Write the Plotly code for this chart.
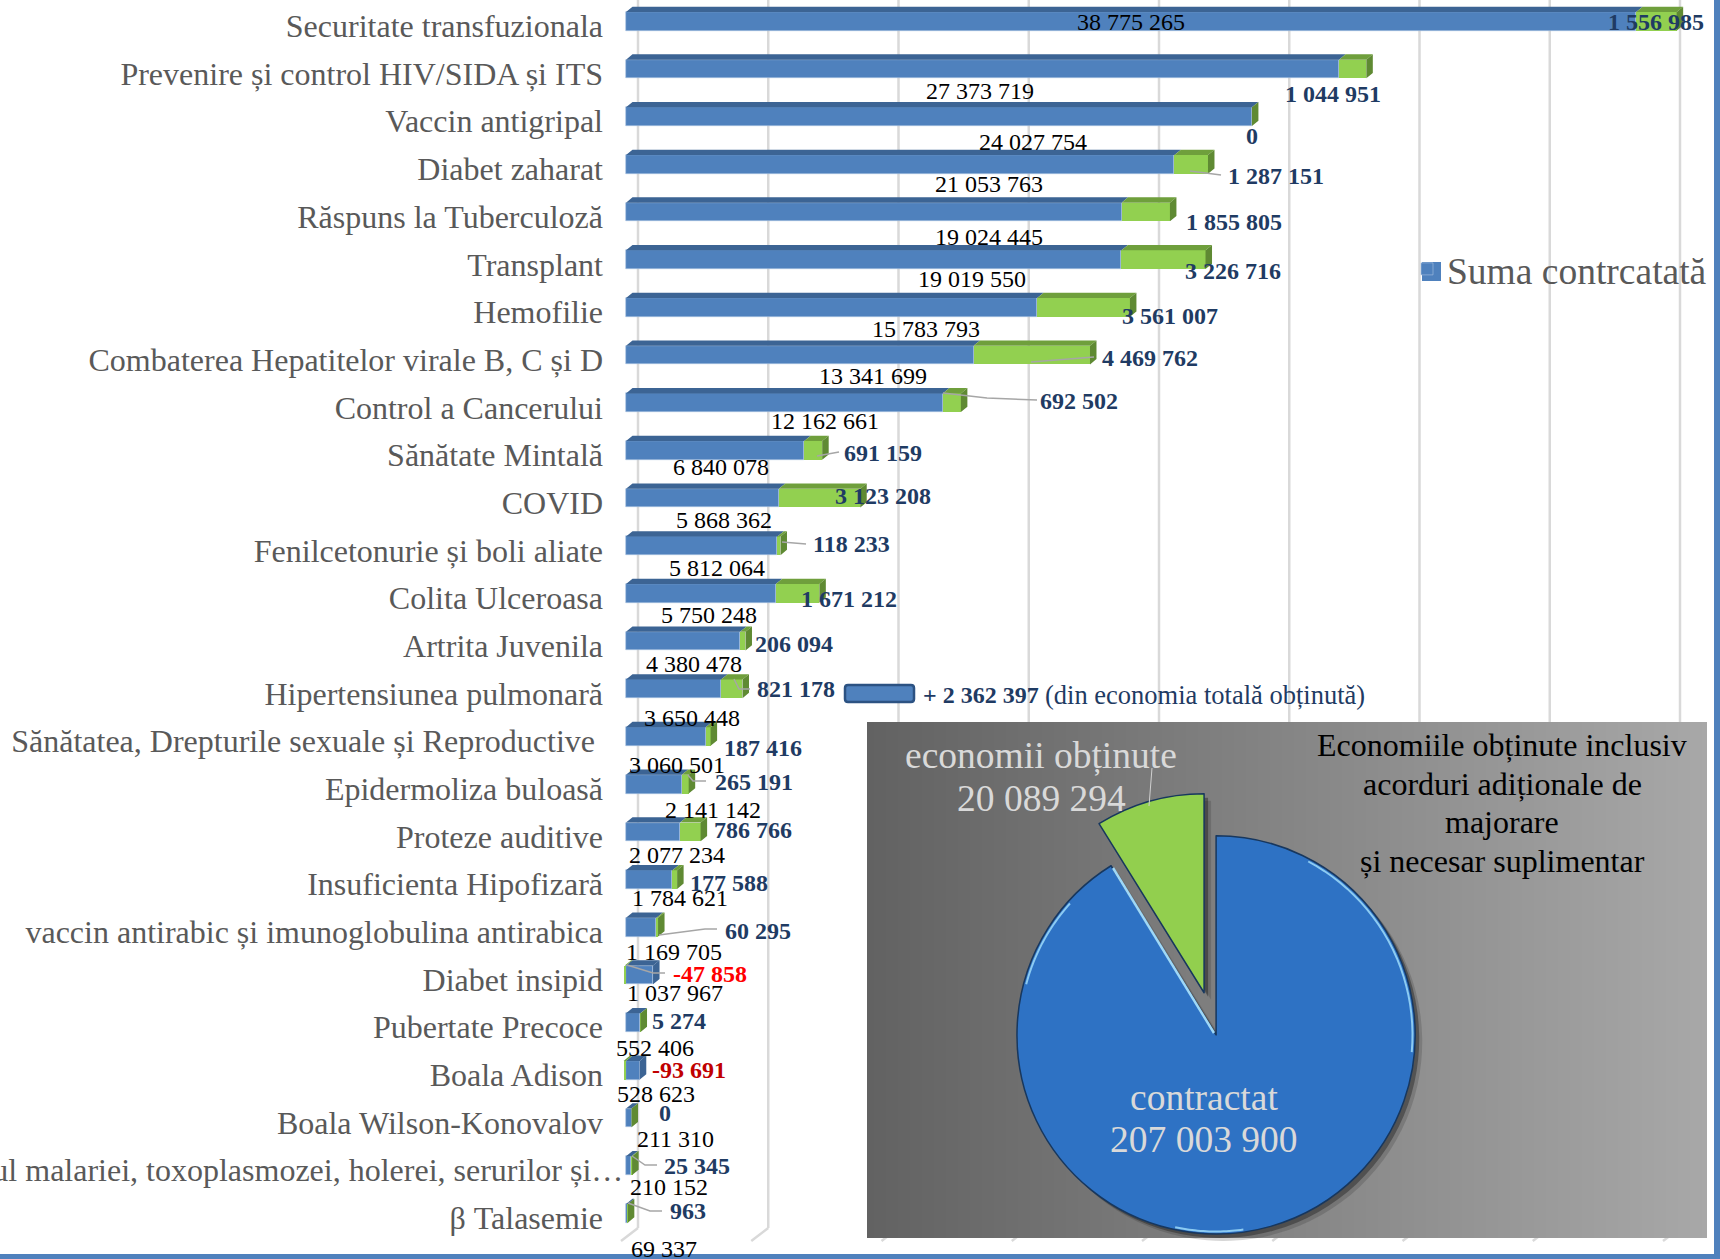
import math
import plotly.graph_objects as go

# ---------- data ----------
categories = ["Securitate transfuzionala", "Prevenire și control HIV/SIDA și ITS", "Vaccin antigripal", "Diabet zaharat",
              "Răspuns la Tuberculoză", "Transplant", "Hemofilie", "Combaterea Hepatitelor virale B, C și D",
              "Control a Cancerului", "Sănătate Mintală", "COVID", "Fenilcetonurie și boli aliate", "Colita Ulceroasa",
              "Artrita Juvenila", "Hipertensiunea pulmonară", "Sănătatea, Drepturile sexuale și Reproductive\u00a0",
              "Epidermoliza buloasă", "Proteze auditive", "Insuficienta Hipofizară",
              "vaccin antirabic și imunoglobulina antirabica", "Diabet insipid", "Pubertate Precoce", "Boala Adison",
              "Boala Wilson-Konovalov", "Tratamentul malariei, toxoplasmozei, holerei, serurilor și…", "β Talasemie"]
contracted = [38775265, 27373719, 24027754, 21053763, 19024445, 19019550, 15783793, 13341699, 12162661, 6840078,
              5868362, 5812064, 5750248, 4380478, 3650448, 3060501, 2141142, 2077234, 1784621, 1169705, 1037967,
              552406, 528623, 211310, 210152, 69337]
savings = [1556985, 1044951, 0, 1287151, 1855805, 3226716, 3561007, 4469762, 692502, 691159, 3123208, 118233, 1671212,
           206094, 821178, 187416, 265191, 786766, 177588, 60295, -47858, 5274, -93691, 0, 25345, 963]
pie_labels = ["contractat", "economii obținute"]
pie_values = [207003900, 20089294]
grid_values = [0, 5e6, 10e6, 15e6, 20e6, 25e6, 30e6, 35e6, 40e6]
extra_note = "+ 2 362 397"
extra_note_tail = "(din economia totală obținută)"
panel_title = ["Economiile obținute inclusiv", "acorduri adiționale de", "majorare", "și necesar suplimentar"]


def fmt(v):
    s = f"{abs(v):,}".replace(",", " ")
    return ("-" if v < 0 else "") + s


# ---------- layout geometry (pixels of the 1720x1259 page) ----------
W, H = 1720, 1259
K = 1720 / 1568
X0_PX, PX_PER_UNIT = 626.0, 26.05 / 1e6
Y0_PX, PX_PER_ROW = 21.3, 47.68
PLOT_LEFT = 604.0
BAR_H = 18.7 / PX_PER_ROW
DX = 6.5 / PX_PER_UNIT
DY = 5.3 / PX_PER_ROW
LABEL_DROP = 4.6 / PX_PER_ROW
LONG_LABEL_ROW = 24


def xpx(v):
    return X0_PX + v * PX_PER_UNIT


def ypx(r):
    return Y0_PX + r * PX_PER_ROW


def xval(p):
    return (p - X0_PX) / PX_PER_UNIT


def yval(p):
    return (p - Y0_PX) / PX_PER_ROW


# label centres in the reference, 1568-wide coordinates
black_pos = [(1031, 20), (893, 83), (942, 129), (902, 168), (902, 216), (886, 254), (844, 300), (796, 343), (752, 384),
             (657, 426), (660, 474), (654, 518), (646, 561), (633, 605), (631, 655), (617, 697), (650, 738), (617, 779),
             (620, 819), (614, 868), (615, 905), (597, 955), (598, 997), (616, 1038), (610, 1082), (605, 1139)]
bold_pos = [(1510, 20), (1215, 86), (1141, 124), (1163, 160), (1125, 202), (1124, 247), (1067, 288), (1048, 326),
            (984, 366), (805, 413), (805, 452), (776, 496), (774, 546), (724, 587), (726, 628), (696, 682), (687, 713),
            (686, 757), (665, 805), (691, 849), (647, 888), (619, 931), (628, 975), (606, 1015), (635, 1063), (627, 1104)]
bold_color = {20: "#FF0000", 22: "#C00000"}
NAVY = "#1F3B63"
SERIF = "Liberation Serif"

# leader lines in page pixels
leaders = [[(1190, 171), (1221, 175)], [(1031, 362), (1094, 357)], [(943, 393), (987, 398), (1037, 400)],
           [(817, 456), (839, 452)], [(782, 542), (806, 544)], [(734, 679), (739, 689), (750, 689)],
           [(688, 775), (693, 781), (706, 781)], [(659, 935), (705, 929), (717, 929)],
           [(627, 965), (653, 973), (665, 973)], [(632, 1156), (645, 1165), (657, 1165)],
           [(628, 1203), (650, 1211), (662, 1211)]]

rows = list(range(len(categories)))

fig = go.Figure()

# panel gradient (own subplot, above the chart's grid)
fig.add_trace(go.Heatmap(z=[[0, 1]], x=[0, 1], y=[0], zsmooth="best", showscale=False, xaxis="x2", yaxis="y2",
                         colorscale=[[0, "#626262"], [1, "#A8A8A8"]], hoverinfo="skip"))

# front faces
fig.add_trace(go.Bar(y=rows, x=contracted, orientation="h", width=BAR_H, name="Suma contrcatată",
                     marker=dict(color="#4F81BD", line=dict(color="#A9C3E3", width=0.6))))
fig.add_trace(go.Bar(y=rows, x=savings, orientation="h", width=BAR_H, name="Economii", showlegend=False,
                     marker=dict(color="#92D050", line=dict(width=0))))

# top and side faces of the 3D bars
def poly(face):
    xs, ys = [], []
    for pts in face:
        xs += [p[0] for p in pts] + [pts[0][0], None]
        ys += [p[1] for p in pts] + [pts[0][1], None]
    return xs, ys


blue_top, green_top, green_side, blue_side = [], [], [], []
for r in rows:
    b, g = contracted[r], savings[r]
    yt = r - BAR_H / 2
    yb = r + BAR_H / 2
    blue_top.append([(0, yt), (b, yt), (b + DX, yt - DY), (DX, yt - DY)])
    if g > 0:
        green_top.append([(b, yt), (b + g, yt), (b + g + DX, yt - DY), (b + DX, yt - DY)])
    elif g < 0:
        green_top.append([(g, yt), (0, yt), (DX, yt - DY), (g + DX, yt - DY)])
    end = b + max(g, 0)
    side = [(end, yt), (end + DX, yt - DY), (end + DX, yb - DY), (end, yb)]
    (blue_side if g < 0 else green_side).append(side)

for face, col in [(blue_top, "#3C6494"), (blue_side, "#3C6494"), (green_top, "#6F9F3C"), (green_side, "#5F8A33")]:
    xs, ys = poly(face)
    fig.add_trace(go.Scatter(x=xs, y=ys, mode="lines", fill="toself", fillcolor=col, line=dict(width=0),
                             hoverinfo="skip", showlegend=False))

# leader lines
lx, ly = [], []
for path in leaders:
    lx += [xval(p[0]) for p in path] + [None]
    ly += [yval(p[1]) for p in path] + [None]
fig.add_trace(go.Scatter(x=lx, y=ly, mode="lines", line=dict(color="#A6A6A6", width=1.5), hoverinfo="skip",
                         showlegend=False))

# pie: soft shadow layers, then the real slices
pie_cx, pie_cy, pie_half = 1209.0, 1010.0, 225.0
PULLS = [0.13, 0.09]


def dom(cx, cy):
    return dict(x=[(cx - pie_half) / W, (cx + pie_half) / W], y=[1 - (cy + pie_half) / H, 1 - (cy - pie_half) / H])


for off, alpha in [(7, 0.18), (4, 0.4)]:
    shade = f"rgba(25,25,25,{alpha})"
    fig.add_trace(go.Pie(labels=pie_labels, values=pie_values, sort=False, direction="clockwise", rotation=0,
                         pull=PULLS, domain=dom(pie_cx + off, pie_cy + off), textinfo="none", hoverinfo="skip",
                         showlegend=False, marker=dict(colors=[shade, shade], line=dict(width=0))))
fig.add_trace(go.Pie(labels=pie_labels, values=pie_values, sort=False, direction="clockwise", rotation=0,
                     pull=PULLS, domain=dom(pie_cx, pie_cy), textinfo="none", showlegend=False,
                     marker=dict(colors=["#2E72C4", "#92CF4E"], line=dict(color="#17375E", width=1.5))))

# ---------- annotations ----------
ann = []
for r in rows:
    cx, cy = black_pos[r]
    ann.append(dict(x=contracted[r], y=r, xref="x", yref="y", text=fmt(contracted[r]), showarrow=False,
                    xanchor="center", yanchor="middle", xshift=cx * K - xpx(contracted[r]),
                    yshift=ypx(r) - cy * K, font=dict(family=SERIF, size=24, color="#000000")))
    cx, cy = bold_pos[r]
    end = contracted[r] + savings[r]
    ann.append(dict(x=end, y=r, xref="x", yref="y", text=f"<b>{fmt(savings[r])}</b>", showarrow=False,
                    xanchor="center", yanchor="middle", xshift=cx * K - xpx(end), yshift=ypx(r) - cy * K,
                    font=dict(family=SERIF, size=24, color=bold_color.get(r, NAVY))))


def page_text(cx, cy, text, size, color, anchor="center"):
    ann.append(dict(x=cx / W, y=1 - cy / H, xref="paper", yref="paper", xanchor=anchor, yanchor="middle",
                    showarrow=False, text=text, font=dict(family=SERIF, size=size, color=color)))


page_text(921, 695, f"<b>{extra_note}</b>", 24, NAVY, "left")
page_text(1043, 695, extra_note_tail, 26.5, NAVY, "left")
for line, yy in zip(panel_title, [745, 784, 822, 861]):
    page_text(1502, yy, line, 32, "#000000")
page_text(1041, 755, pie_labels[1], 37.5, "#D9D9D9")
page_text(1041, 798, fmt(pie_values[1]), 37.5, "#D9D9D9")
page_text(1204, 1097, pie_labels[0], 37.5, "#D9D9D9")
page_text(1204, 1139, fmt(pie_values[0]), 37.5, "#D9D9D9")
# the long category label runs past the others, up to the bar
page_text(625, ypx(LONG_LABEL_ROW + LABEL_DROP), categories[LONG_LABEL_ROW], 32, "#595959", "right")

# ---------- shapes ----------
shapes = []
grid_bottom, dg_x, dg_y = 1228.0, 17.0, 13.0
GRID_DX = 12.0
for v in grid_values:
    gx = xpx(v) + GRID_DX
    shapes.append(dict(type="line", layer="below", xref="x", yref="y", x0=xval(gx), x1=xval(gx), y0=yval(-2),
                       y1=yval(grid_bottom), line=dict(color="#D9D9D9", width=2.5)))
    shapes.append(dict(type="line", layer="below", xref="x", yref="y", x0=xval(gx), x1=xval(gx - dg_x),
                       y0=yval(grid_bottom), y1=yval(grid_bottom + dg_y), line=dict(color="#D9D9D9", width=2.5)))


def paper_rect(x0, y0, x1, y1, **kw):
    return dict(type="rect", xref="paper", yref="paper", x0=x0 / W, x1=x1 / W, y0=1 - y0 / H, y1=1 - y1 / H, **kw)


def pt(px, py):
    return f"{px / W:.5f},{1 - py / H:.5f}"


def rounded(x0, y0, x1, y1, r):
    return (f"M{pt(x0 + r, y0)} L{pt(x1 - r, y0)} Q{pt(x1, y0)} {pt(x1, y0 + r)} L{pt(x1, y1 - r)} "
            f"Q{pt(x1, y1)} {pt(x1 - r, y1)} L{pt(x0 + r, y1)} Q{pt(x0, y1)} {pt(x0, y1 - r)} "
            f"L{pt(x0, y0 + r)} Q{pt(x0, y0)} {pt(x0 + r, y0)} Z")


def arc_path(a0, a1, cx=1216.0, cy=1035.0, r=196.5, n=24):
    points = []
    for i in range(n + 1):
        a = math.radians(a0 + (a1 - a0) * i / n)
        points.append(pt(cx + r * math.sin(a), cy - r * math.cos(a)))
    return "M" + " L".join(points)


shapes.append(dict(type="path", xref="paper", yref="paper", path=rounded(845, 685, 914, 702, 3), fillcolor="#4F81BD",
                   line=dict(color="#2C5282", width=2.5)))
shapes.append(paper_rect(1422, 262, 1441, 281, fillcolor="#4F81BD", line=dict(width=0)))
shapes.append(paper_rect(1714, 0, W, H, fillcolor="#4F81BD", line=dict(width=0)))
shapes.append(paper_rect(0, 1254, W, H, fillcolor="#4F81BD", line=dict(width=0)))
shapes.append(dict(type="line", xref="paper", yref="paper", x0=1152 / W, x1=1149 / W, y0=1 - 768 / H, y1=1 - 806 / H,
                   line=dict(color="#D0D0D0", width=1)))
# bevel highlights of the blue slice
for a0, a1 in [(28, 95), (172, 192), (285, 312)]:
    shapes.append(dict(type="path", xref="paper", yref="paper", path=arc_path(a0, a1), layer="above",
                       line=dict(color="#8CCBF2", width=2)))
shapes.append(dict(type="line", xref="paper", yref="paper", layer="above", x0=1113 / W, x1=1214 / W,
                   y0=1 - 868 / H, y1=1 - 1033 / H, line=dict(color="#9FD8F7", width=2.5)))

tick_labels = ["" if r == LONG_LABEL_ROW else categories[r] for r in rows]

fig.update_layout(
    width=W, height=H, margin=dict(l=0, r=0, t=0, b=0), autosize=False,
    paper_bgcolor="#FFFFFF", plot_bgcolor="rgba(0,0,0,0)", barmode="relative", bargap=0,
    font=dict(family=SERIF),
    xaxis=dict(domain=[PLOT_LEFT / W, 1], range=[xval(PLOT_LEFT), xval(W)], showgrid=False, zeroline=False,
               showticklabels=False, ticks="", fixedrange=True),
    yaxis=dict(domain=[0, 1], range=[yval(H), yval(0)], showgrid=False, zeroline=False, ticks="",
               tickmode="array", tickvals=[r + LABEL_DROP for r in rows], ticktext=tick_labels,
               tickfont=dict(family=SERIF, size=32, color="#595959"), fixedrange=True, automargin=False),
    xaxis2=dict(domain=[867 / W, 1707.5 / W], range=[0, 1], visible=False, anchor="y2", fixedrange=True),
    yaxis2=dict(domain=[1 - 1238 / H, 1 - 722 / H], range=[-0.5, 0.5], visible=False, anchor="x2", fixedrange=True),
    legend=dict(x=1407 / W, y=1 - 269 / H, xanchor="left", yanchor="middle", bgcolor="rgba(0,0,0,0)",
                font=dict(family=SERIF, size=37.5, color="#595959"), itemclick=False, itemdoubleclick=False),
    showlegend=True, annotations=ann, shapes=shapes,
)

fig.write_html("out.html", config=dict(displayModeBar=False),
               post_script="document.body.style.margin='0';document.documentElement.style.overflow='hidden';")
